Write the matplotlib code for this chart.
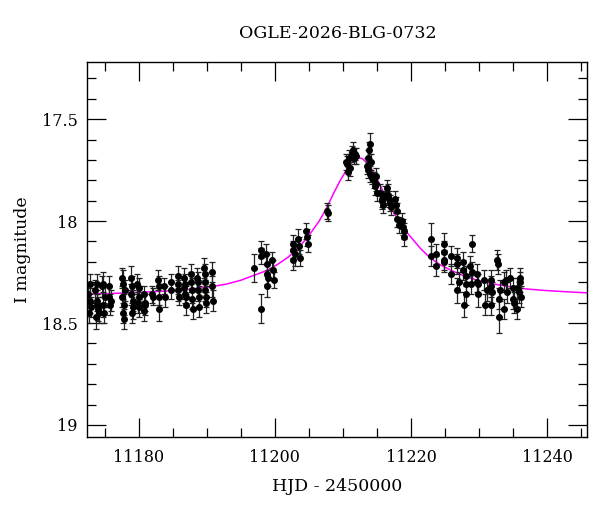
import matplotlib
matplotlib.use("Agg")
import matplotlib.pyplot as plt
from matplotlib.ticker import MultipleLocator, FuncFormatter

title = "OGLE-2026-BLG-0732"
xlabel = "HJD - 2450000"
ylabel = "I magnitude"

hjd = [
    11172.6, 11172.7, 11172.8, 11172.9, 11173.0, 11173.6, 11173.7, 11173.8, 11173.9, 11173.9,
    11174.0, 11174.1, 11174.6, 11174.7, 11174.8, 11174.9, 11175.0, 11175.6, 11175.7, 11175.8,
    11175.9, 11177.5, 11177.6, 11177.7, 11177.7, 11177.8, 11177.9, 11178.0, 11178.8, 11178.9,
    11179.0, 11179.0, 11179.1, 11179.2, 11179.8, 11179.9, 11180.0, 11180.1, 11180.1, 11180.7,
    11180.8, 11180.9, 11180.9, 11182.0, 11182.1, 11182.8, 11182.9, 11182.9, 11183.0, 11183.7,
    11183.8, 11184.7, 11184.8, 11185.7, 11185.8, 11185.8, 11185.9, 11186.6, 11186.7, 11186.8,
    11186.8, 11186.9, 11186.9, 11187.6, 11187.7, 11187.8, 11187.8, 11187.9, 11188.6, 11188.7,
    11188.7, 11188.8, 11188.9, 11189.6, 11189.7, 11189.7, 11189.8, 11189.9, 11189.9, 11190.8,
    11190.8, 11190.9,
    11196.9, 11197.9, 11197.9, 11198.0, 11198.7, 11198.8, 11198.8, 11198.9, 11199.0, 11199.6,
    11199.7, 11199.8, 11202.6, 11202.7, 11202.7, 11202.9, 11203.4, 11203.6, 11203.7, 11204.6,
    11204.7, 11204.9, 11207.7, 11207.8,
    11210.5, 11210.6, 11210.7, 11210.9, 11211.1, 11211.3, 11211.5, 11211.6, 11211.8, 11211.9,
    11213.5, 11213.6, 11213.7, 11213.8, 11213.9, 11214.0, 11214.1, 11214.2,
    11214.5, 11214.7, 11214.8, 11214.9, 11215.0, 11215.5, 11215.7, 11215.8, 11215.9, 11216.1,
    11216.5, 11216.6, 11216.8, 11216.9, 11217.0, 11217.7, 11217.8, 11217.9, 11218.0, 11218.2,
    11218.7, 11218.8, 11218.9, 11219.0,
    11222.9, 11222.9, 11223.7, 11223.7, 11224.8, 11224.8, 11224.9, 11224.9, 11225.8, 11225.8,
    11226.7, 11226.8, 11226.8, 11227.0, 11227.7, 11227.7, 11227.8, 11228.0, 11228.0, 11228.0,
    11228.7, 11228.8, 11229.0, 11229.0, 11229.7, 11229.7, 11229.8, 11229.9, 11230.7, 11230.9,
    11231.2, 11231.7, 11231.8, 11231.8, 11231.9, 11232.6, 11232.7, 11232.9, 11232.9, 11233.1,
    11233.6, 11233.7, 11233.9, 11234.1, 11234.6, 11234.9, 11234.9, 11235.1, 11235.6, 11235.6,
    11235.8, 11236.0, 11236.0, 11236.1,
]
mag = [
    18.36, 18.45, 18.31, 18.39, 18.42, 18.34, 18.47, 18.31, 18.41, 18.39,
    18.43, 18.45, 18.32, 18.41, 18.31, 18.45, 18.37, 18.37, 18.32, 18.41,
    18.39, 18.28, 18.37, 18.45, 18.31, 18.48, 18.41, 18.34, 18.28, 18.36,
    18.45, 18.32, 18.42, 18.39, 18.31, 18.40, 18.33, 18.42, 18.37, 18.36,
    18.44, 18.40, 18.41, 18.36, 18.37, 18.29, 18.37, 18.43, 18.32, 18.32,
    18.37, 18.30, 18.34, 18.27, 18.31, 18.34, 18.37, 18.28, 18.33, 18.31,
    18.36, 18.37, 18.41, 18.26, 18.30, 18.34, 18.38, 18.43, 18.28, 18.30,
    18.34, 18.37, 18.42, 18.23, 18.26, 18.30, 18.34, 18.37, 18.40, 18.25,
    18.32, 18.39,
    18.23, 18.14, 18.17, 18.43, 18.16, 18.21, 18.26, 18.32, 18.28, 18.19,
    18.24, 18.29, 18.11, 18.14, 18.19, 18.16, 18.09, 18.12, 18.18, 18.05,
    18.08, 18.11, 17.95, 17.96,
    17.71, 17.72, 17.76, 17.69, 17.74, 17.67, 17.65, 17.69, 17.67, 17.68,
    17.73, 17.75, 17.69, 17.65, 17.62, 17.77, 17.71, 17.79,
    17.80, 17.83, 17.78, 17.82, 17.86, 17.86, 17.89, 17.90, 17.92, 17.87,
    17.84, 17.87, 17.89, 17.91, 17.93, 17.89, 17.92, 17.95, 17.99, 18.02,
    18.00, 18.03, 18.05, 18.08,
    18.09, 18.17, 18.16, 18.22, 18.11, 18.19, 18.20, 18.15, 18.17, 18.26,
    18.18, 18.21, 18.34, 18.30, 18.20, 18.24, 18.41, 18.27, 18.31, 18.36,
    18.22, 18.31, 18.11, 18.25, 18.26, 18.30, 18.36, 18.31, 18.29, 18.41,
    18.34, 18.29, 18.32, 18.41, 18.35, 18.19, 18.21, 18.47, 18.38, 18.34,
    18.30, 18.43, 18.29, 18.35, 18.28, 18.33, 18.38, 18.40, 18.43, 18.33,
    18.35, 18.28, 18.30, 18.37,
]
err = [
    0.05, 0.05, 0.05, 0.06, 0.05, 0.05, 0.06, 0.05, 0.05, 0.05,
    0.06, 0.05, 0.05, 0.06, 0.06, 0.05, 0.05, 0.05, 0.05, 0.05,
    0.05, 0.05, 0.05, 0.05, 0.07, 0.05, 0.05, 0.05, 0.06, 0.05,
    0.05, 0.05, 0.06, 0.05, 0.05, 0.05, 0.05, 0.05, 0.05, 0.04,
    0.05, 0.04, 0.05, 0.04, 0.04, 0.05, 0.04, 0.06, 0.05, 0.04,
    0.05, 0.04, 0.04, 0.05, 0.05, 0.05, 0.04, 0.05, 0.05, 0.05,
    0.04, 0.05, 0.05, 0.05, 0.05, 0.06, 0.05, 0.05, 0.05, 0.05,
    0.05, 0.05, 0.05, 0.05, 0.05, 0.05, 0.05, 0.05, 0.05, 0.05,
    0.05, 0.05,
    0.07, 0.04, 0.04, 0.07, 0.05, 0.05, 0.05, 0.05, 0.04, 0.04,
    0.05, 0.04, 0.04, 0.04, 0.05, 0.06, 0.05, 0.04, 0.04, 0.04,
    0.04, 0.04, 0.04, 0.04,
    0.04, 0.04, 0.04, 0.04, 0.04, 0.04, 0.04, 0.03, 0.03, 0.04,
    0.04, 0.04, 0.04, 0.04, 0.05, 0.04, 0.04, 0.03,
    0.04, 0.04, 0.04, 0.03, 0.04, 0.04, 0.04, 0.04, 0.04, 0.04,
    0.04, 0.05, 0.04, 0.04, 0.04, 0.04, 0.04, 0.04, 0.04, 0.04,
    0.04, 0.04, 0.04, 0.04,
    0.08, 0.05, 0.05, 0.05, 0.05, 0.05, 0.05, 0.05, 0.05, 0.05,
    0.05, 0.05, 0.06, 0.05, 0.05, 0.05, 0.06, 0.05, 0.05, 0.05,
    0.05, 0.05, 0.04, 0.05, 0.05, 0.05, 0.06, 0.05, 0.05, 0.05,
    0.05, 0.05, 0.05, 0.05, 0.05, 0.05, 0.05, 0.08, 0.05, 0.05,
    0.05, 0.05, 0.05, 0.05, 0.05, 0.05, 0.05, 0.05, 0.05, 0.05,
    0.05, 0.05, 0.05, 0.05,
]

model_t = [
    11172.4, 11176, 11180, 11184, 11188, 11191, 11193, 11195, 11197, 11199,
    11200.5, 11202, 11203.5, 11205, 11206.5, 11207.6, 11208.6, 11209.6, 11210.5, 11211.2,
    11211.8, 11212.3, 11212.8, 11213.5, 11214.3, 11215.1, 11216.0, 11217.0, 11218.0, 11219.0,
    11220.0, 11221.4, 11222.8, 11224.3, 11225.8, 11227.7, 11229.7, 11232, 11234.6, 11237,
    11239.5, 11243, 11246,
]
model_m = [
    18.357, 18.355, 18.350, 18.343, 18.333, 18.320, 18.308, 18.290, 18.265, 18.240,
    18.210, 18.175, 18.130, 18.070, 18.000, 17.935, 17.865, 17.800, 17.750, 17.715,
    17.695, 17.688, 17.693, 17.713, 17.750, 17.800, 17.862, 17.930, 17.990, 18.040,
    18.080, 18.135, 18.180, 18.215, 18.240, 18.268, 18.290, 18.308, 18.322, 18.333,
    18.340, 18.347, 18.352,
]

plt.rcParams['font.family'] = ['DejaVu Serif']
fig = plt.figure(figsize=(6.0, 5.12), dpi=100)
ax = fig.add_axes([0.1455, 0.1465, 0.979 - 0.1455, 0.8795 - 0.1465])

ax.plot(model_t, model_m, color='#ff00ff', lw=1.1, zorder=1)
ax.errorbar(hjd, mag, yerr=err, fmt='o', color='black', ms=4.0, mec='black',
            ecolor='#222222', elinewidth=0.9, capsize=2.3, capthick=0.9, zorder=2)

ax.set_xlim(11172.44, 11245.9)
ax.set_ylim(19.059, 17.218)
ax.xaxis.set_major_locator(MultipleLocator(20))
ax.xaxis.set_minor_locator(MultipleLocator(5))
ax.yaxis.set_major_locator(MultipleLocator(0.5))
ax.yaxis.set_minor_locator(MultipleLocator(0.1))
ax.yaxis.set_major_formatter(FuncFormatter(lambda v, p: f"{v:g}"))
ax.tick_params(which='both', direction='in', top=True, right=True, labelsize=11.5, width=0.9)
ax.tick_params(which='major', length=13.5)
ax.tick_params(which='minor', length=6.8)
ax.tick_params(axis='x', pad=9)
ax.tick_params(axis='y', pad=7)
for s in ax.spines.values():
    s.set_linewidth(1.0)

ax.set_title(title, fontsize=12.5, pad=17)
ax.set_xlabel(xlabel, fontsize=12.5, labelpad=8)
ax.set_ylabel(ylabel, fontsize=12.5, labelpad=8)

fig.savefig("out.png", dpi=100)
